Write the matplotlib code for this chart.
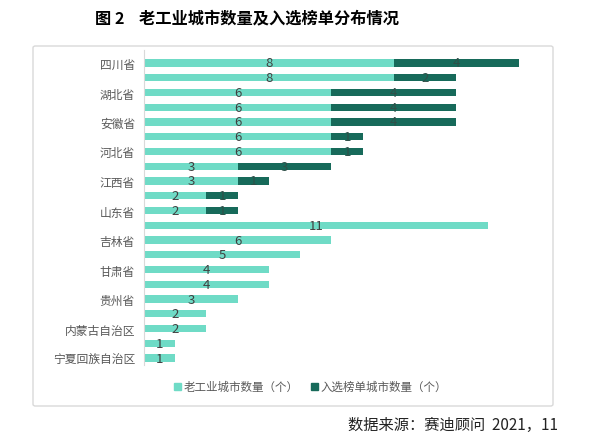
import matplotlib
matplotlib.use('Agg')
import numpy as np
import matplotlib.pyplot as plt
from matplotlib.patches import FancyBboxPatch, Rectangle

plt.rcParams['font.family'] = ['Noto Sans CJK SC', 'DejaVu Sans']

# 省份（Excel 只显示了隔行标签）
PROVINCES = ['四川省', '', '湖北省', '', '安徽省', '', '河北省', '', '江西省', '',
             '山东省', '', '吉林省', '', '甘肃省', '', '贵州省', '', '内蒙古自治区', '',
             '宁夏回族自治区']
OLD_CITIES = [8, 8, 6, 6, 6, 6, 6, 3, 3, 2, 2, 11, 6, 5, 4, 4, 3, 2, 2, 1, 1]
LISTED = [4, 2, 4, 4, 4, 1, 1, 3, 1, 1, 1, 0, 0, 0, 0, 0, 0, 0, 0, 0, 0]

LEGEND = ['老工业城市数量（个）', '入选榜单城市数量（个）']
TITLE = '图 2    老工业城市数量及入选榜单分布情况'
SOURCE = '数据来源：赛迪顾问  2021，11'

C_LIGHT = '#6FDBC6'
C_DARK = '#176A5A'
C_TEXT = '#404040'

fig = plt.figure(figsize=(6.0, 4.39), dpi=100)

# 外框
frame = FancyBboxPatch((33 / 600, 1 - 407 / 439), 520 / 600, 360 / 439,
                       boxstyle='round,pad=0,rounding_size=0.004',
                       transform=fig.transFigure, facecolor='white',
                       edgecolor='#D9D9D9', linewidth=1.0, zorder=-1)
fig.patches.append(frame)

ax = fig.add_axes([144 / 600, 1 - 366.4 / 439, 406 / 600, 315.7 / 439])
ax.set_facecolor('none')
ax.set_zorder(2)

y = np.arange(len(PROVINCES))
old = np.array(OLD_CITIES)
listed = np.array(LISTED)
h = 0.5
ax.barh(y, old, height=h, color=C_LIGHT, label=LEGEND[0], zorder=2)
ax.barh(y, listed, left=old, height=h, color=C_DARK, label=LEGEND[1], zorder=2)

for yi, a, b in zip(y, old, listed):
    ax.text(a / 2, yi, str(a), ha='center', va='center', fontsize=9.5,
            color=C_TEXT, zorder=3)
    if b > 0:
        ax.text(a + b / 2, yi, str(b), ha='center', va='center', fontsize=9.5,
                color='#2F4F48', zorder=3)

ax.set_xlim(0, 13)
ax.set_ylim(len(PROVINCES) - 0.5, -0.9)
ax.set_yticks(y)
ax.set_yticklabels(PROVINCES, fontsize=8.5, color='#595959')
ax.tick_params(axis='y', length=0, pad=6.5)
ax.set_xticks([])
for s in ['top', 'right', 'bottom']:
    ax.spines[s].set_visible(False)
ax.spines['left'].set_color('#D9D9D9')

# 图例
lx = 174 / 600
ly = 1 - 387 / 439
fig.patches.append(Rectangle((lx, ly - 0.009), 7 / 600, 7 / 439,
                             transform=fig.transFigure, color=C_LIGHT))
fig.text(lx + 10 / 600, ly, LEGEND[0], fontsize=8.3, color='#595959',
         va='center')
lx2 = 311 / 600
fig.patches.append(Rectangle((lx2, ly - 0.009), 7 / 600, 7 / 439,
                             transform=fig.transFigure, color=C_DARK))
fig.text(lx2 + 10 / 600, ly, LEGEND[1], fontsize=8.3, color='#595959',
         va='center')

fig.text(95 / 600, 1 - 18 / 439, TITLE, fontsize=11.7, color='black',
         va='center', ha='left', fontweight='bold')
fig.text(558 / 600, 1 - 425 / 439, SOURCE, fontsize=11, color='#222222',
         va='center', ha='right')

fig.savefig('out.png', dpi=100)
